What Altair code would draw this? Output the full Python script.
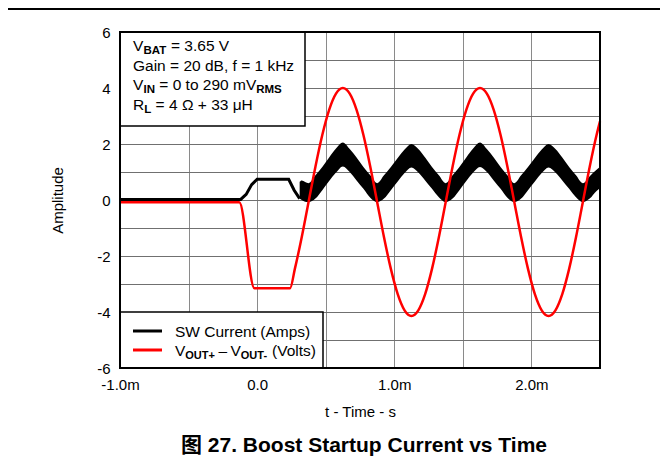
import altair as alt
import pandas as pd

# ---------------- data (time in ms) ----------------
red_t = [-1.0, -0.13, -0.02, 0.24,
         0.275, 0.325, 0.375, 0.425, 0.475, 0.525, 0.575, 0.625, 0.675, 0.725,
         0.775, 0.825, 0.875, 0.925, 0.975, 1.025, 1.075, 1.125, 1.175, 1.225,
         1.275, 1.325, 1.375, 1.425, 1.475, 1.525, 1.575, 1.625, 1.675, 1.725,
         1.775, 1.825, 1.875, 1.925, 1.975, 2.025, 2.075, 2.125, 2.175, 2.225,
         2.275, 2.325, 2.375, 2.425, 2.475, 2.5]
red_v = [-0.08, -0.08, -3.15, -3.15,
         -2.46, -1.33, -0.07, 1.19, 2.32, 3.22, 3.80, 4.00, 3.80, 3.22,
         2.32, 1.19, -0.07, -1.33, -2.46, -3.36, -3.94, -4.14, -3.94, -3.36,
         -2.46, -1.33, -0.07, 1.19, 2.32, 3.22, 3.80, 4.00, 3.80, 3.22,
         2.32, 1.19, -0.07, -1.33, -2.46, -3.36, -3.94, -4.14, -3.94, -3.36,
         -2.46, -1.33, -0.07, 1.19, 2.32, 2.81]

sw_t = [-1.0, -0.6, -0.12, -0.08, -0.04, 0.0, 0.23, 0.27, 0.31]
sw_v = [0.02, 0.02, 0.02, 0.2, 0.55, 0.74, 0.74, 0.35, 0.05]

band_t = [0.31, 0.325, 0.375, 0.425, 0.475, 0.525, 0.575, 0.625, 0.675, 0.725,
          0.775, 0.825, 0.875, 0.925, 0.975, 1.025, 1.075, 1.125, 1.175, 1.225,
          1.275, 1.325, 1.375, 1.425, 1.475, 1.525, 1.575, 1.625, 1.675, 1.725,
          1.775, 1.825, 1.875, 1.925, 1.975, 2.025, 2.075, 2.125, 2.175, 2.225,
          2.275, 2.325, 2.375, 2.425, 2.475, 2.5]
band_lo = [0.05, 0.0, -0.08, 0.05, 0.35, 0.68, 0.98, 1.2, 1.0, 0.7,
           0.4, 0.08, -0.08, 0.05, 0.35, 0.66, 0.96, 1.16, 0.98, 0.7,
           0.4, 0.1, -0.08, 0.05, 0.35, 0.68, 0.98, 1.18, 1.0, 0.7,
           0.4, 0.08, -0.08, 0.05, 0.35, 0.66, 0.96, 1.16, 0.98, 0.7,
           0.4, 0.1, -0.08, 0.05, 0.32, 0.42]
band_hi = [0.65, 0.7, 0.6, 0.88, 1.18, 1.52, 1.84, 2.05, 1.82, 1.52,
           1.18, 0.88, 0.6, 0.88, 1.18, 1.5, 1.8, 2.0, 1.82, 1.52,
           1.18, 0.88, 0.6, 0.88, 1.18, 1.52, 1.84, 2.05, 1.82, 1.52,
           1.18, 0.88, 0.6, 0.88, 1.18, 1.5, 1.8, 2.0, 1.82, 1.52,
           1.18, 0.88, 0.6, 0.85, 1.08, 1.18]

x_ticks = [-1.0, -0.5, 0.0, 0.5, 1.0, 1.5, 2.0, 2.5]
y_ticks = [-6, -5, -4, -3, -2, -1, 0, 1, 2, 3, 4, 5, 6]

legend_labels = ["SW Current (Amps)", "(Volts)"]
fig_title = "图 27. Boost Startup Current vs Time"

FONT = "Liberation Sans, Arial, Helvetica, sans-serif"
FONT_T = "Liberation Sans, Arial, Noto Sans CJK SC, sans-serif"
W, H = 480, 336

red_df = pd.DataFrame({"t": red_t, "v": red_v})
sw_df = pd.DataFrame({"t": sw_t, "v": sw_v})
band_df = pd.DataFrame({"t": band_t, "lo": band_lo, "hi": band_hi})
one = pd.DataFrame({"k": [0]})

xs = alt.Scale(domain=[-1.0, 2.5], nice=False, zero=False)
ys = alt.Scale(domain=[-6, 6], nice=False, zero=False)

x_axis = alt.Axis(values=x_ticks, title="t - Time - s", grid=True, gridColor="#8a8a8a",
                  gridWidth=1, ticks=False, domain=False,
                  labelExpr="datum.value == 0 ? '0.0' : (datum.value % 1 == 0 ? toString(datum.value) + '.0m' : '')",
                  labelFontSize=15, titleFontSize=15, labelPadding=9, titlePadding=12,
                  labelColor="black", titleColor="black", titleFontWeight="normal",
                  labelFont=FONT, titleFont=FONT, labelFlush=False)
y_axis = alt.Axis(values=y_ticks, title="Amplitude", grid=True, gridColor="#707070",
                  gridWidth=1, ticks=False, domain=False,
                  labelExpr="datum.value % 2 == 0 ? toString(datum.value) : ''",
                  labelFontSize=15, titleFontSize=15, labelPadding=10, titlePadding=31,
                  labelColor="black", titleColor="black", titleFontWeight="normal",
                  labelFont=FONT, titleFont=FONT, labelFlush=False)

X = alt.X("t:Q", scale=xs, axis=x_axis)

band = alt.Chart(band_df).mark_area(color="black", interpolate="monotone").encode(
    x=X, y=alt.Y("lo:Q", scale=ys, axis=y_axis), y2="hi:Q")
sw = alt.Chart(sw_df).mark_line(color="black", strokeWidth=3).encode(
    x=X, y=alt.Y("v:Q", scale=ys, axis=y_axis))
red = alt.Chart(red_df).mark_line(color="#ff0000", strokeWidth=2.5, interpolate="monotone").encode(
    x=X, y=alt.Y("v:Q", scale=ys, axis=y_axis))


def box(x0, x1, y0, y1, sw_=1.5, fill="white", op=1):
    return alt.Chart(one).mark_rect(fill=fill, fillOpacity=op, stroke="black", strokeWidth=sw_).encode(
        x=alt.value(x0), x2=alt.value(x1), y=alt.value(y0), y2=alt.value(y1))


def txt(x, y, s, size=15.5, bold=False, align="left", font=FONT):
    return alt.Chart(one).mark_text(align=align, baseline="alphabetic", fontSize=size,
                                    fontWeight="bold" if bold else "normal",
                                    font=font, color="black").encode(
        x=alt.value(x), y=alt.value(y), text=alt.value(s))


def hrule(x0, x1, y, color, w):
    return alt.Chart(one).mark_rule(color=color, strokeWidth=w).encode(
        x=alt.value(x0), x2=alt.value(x1), y=alt.value(y))


SUB = 11.5
LSUB = 11
layers = [band, sw, red,
          # annotation box
          box(0, 185, 0, 94),
          txt(13, 19, "V"), txt(23.5, 22, "BAT", SUB, True), txt(51, 19, "= 3.65 V"),
          txt(13, 38.5, "Gain = 20 dB, f = 1 kHz"),
          txt(13, 58, "V"), txt(23.5, 61, "IN", SUB, True), txt(39.3, 58, "= 0 to 290 mV"),
          txt(136.2, 61, "RMS", SUB, True),
          txt(13, 77.5, "R"), txt(24.3, 80.5, "L", SUB, True), txt(35.6, 77.5, "= 4 \u03a9 + 33 \u03bcH"),
          # legend
          box(0, 203, 280, 336),
          hrule(13, 42, 299, "black", 3), hrule(13, 42, 318, "#ff0000", 3),
          txt(55, 304.5, legend_labels[0]),
          txt(55, 323.5, "V"), txt(65.3, 326.5, "OUT+", LSUB, True), txt(98.5, 323.5, "\u2013"),
          txt(110.5, 323.5, "V"), txt(120.8, 326.5, "OUT-", LSUB, True), txt(152, 323.5, legend_labels[1]),
          # frame
          box(0, W, 0, H, 2, "white", 0),
          # header rule & figure caption
          hrule(-112, 540, -23, "black", 2),
          txt(244, 420, fig_title, 21, True, "center", FONT_T)]

chart = alt.layer(*layers).properties(
    width=W, height=H,
    autosize=alt.AutoSizeParams(type="none"),
    padding={"left": 112, "top": 24, "right": 60, "bottom": 88},
).configure_view(stroke=None)

chart.save("out.html", embed_options={"renderer": "svg", "actions": False})
